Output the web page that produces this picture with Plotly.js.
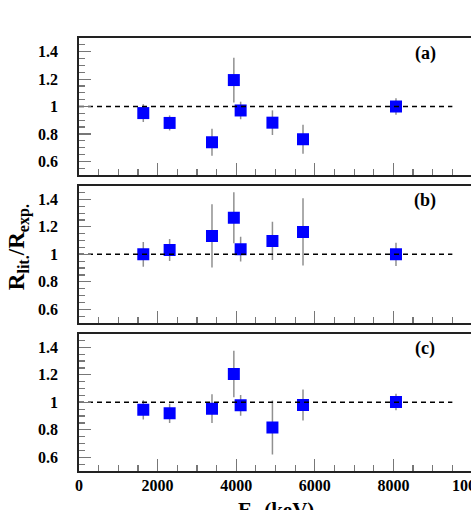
<!DOCTYPE html>
<html>
<head>
<meta charset="utf-8">
<script src="https://cdn.plot.ly/plotly-3.0.1.min.js"></script>
<style>
  html, body { margin: 0; padding: 0; overflow: hidden; background: #fff; }
  #graph { width: 500px; height: 510px; }
</style>
</head>
<body>
<div id="graph"></div>
<script>
// gamma energies (keV), same for all three panels
const energies = [1636, 2306, 3384, 3940, 4113, 4922, 5700, 8066];

// ratio R_lit / R_exp for each panel, with symmetric errors
const ratioA = [0.952, 0.880, 0.739, 1.193, 0.971, 0.882, 0.761, 1.000];
const errA   = [0.065, 0.055, 0.098, 0.163, 0.064, 0.090, 0.105, 0.060];

const ratioB = [1.000, 1.031, 1.134, 1.267, 1.038, 1.098, 1.163, 1.000];
const errB   = [0.090, 0.080, 0.230, 0.186, 0.090, 0.140, 0.245, 0.085];

const ratioC = [0.945, 0.920, 0.954, 1.206, 0.978, 0.817, 0.981, 1.003];
const errC   = [0.070, 0.070, 0.104, 0.170, 0.075, 0.197, 0.113, 0.060];

// reference line R = 1
const refX = [0, 9500];
const refY = [1, 1];

const panelLabels = ['(a)', '(b)', '(c)'];

const SERIF = 'Liberation Serif';

function points(y, err, n) {
    return {
        x: energies,
        y: y,
        xaxis: 'x' + n,
        yaxis: 'y' + n,
        mode: 'markers',
        type: 'scatter',
        marker: {symbol: 'square', size: 12, color: '#0000ff', line: {width: 0}},
        error_y: {type: 'data', array: err, visible: true, width: 0, thickness: 1.5, color: '#909090'},
        showlegend: false
    };
}

function refLine(n) {
    return {
        x: refX,
        y: refY,
        xaxis: 'x' + n,
        yaxis: 'y' + n,
        mode: 'lines',
        type: 'scatter',
        line: {color: '#000', width: 1.5, dash: '5px,4px'},
        showlegend: false
    };
}

const traces = [
    points(ratioA, errA, ''), points(ratioB, errB, '2'), points(ratioC, errC, '3'),
    refLine(''), refLine('2'), refLine('3')
];

function xAxis(anchor, labels) {
    return {
        anchor: anchor,
        range: [0, 10000],
        dtick: 2000,
        tickformat: 'd',
        ticks: 'inside',
        ticklen: 12,
        tickwidth: 1.2,
        tickcolor: '#777',
        minor: {ticks: 'inside', dtick: 500, ticklen: 6, tickwidth: 1.2, tickcolor: '#777'},
        showline: true,
        linecolor: '#222',
        linewidth: 1.8,
        mirror: true,
        showgrid: false,
        zeroline: false,
        showticklabels: labels,
        ticklabelstandoff: -1,
        tickfont: {family: SERIF, size: 16, weight: 'bold', color: '#000'}
    };
}

function yAxis(anchor, domain) {
    return {
        anchor: anchor,
        domain: domain,
        range: [0.5, 1.5],
        tickvals: [0.6, 0.8, 1, 1.2, 1.4],
        ticktext: ['0.6', '0.8', '1', '1.2', '1.4'],
        ticks: 'inside',
        ticklen: 12,
        tickwidth: 1.2,
        tickcolor: '#777',
        minor: {ticks: 'inside', dtick: 0.05, ticklen: 6, tickwidth: 1.2, tickcolor: '#777'},
        showline: true,
        linecolor: '#222',
        linewidth: 1.8,
        mirror: true,
        showgrid: false,
        zeroline: false,
        ticklabelstandoff: 16,
        tickfont: {family: SERIF, size: 16, weight: 'bold', color: '#000'}
    };
}

const annotations = panelLabels.map((t, i) => ({
    text: t,
    xref: 'x' + (i ? i + 1 : ''),
    yref: 'y' + (i ? i + 1 : ''),
    x: 8812,
    y: 1.39,
    showarrow: false,
    font: {family: SERIF, size: 18, weight: 'bold', color: '#000'}
}));
// axis titles
annotations.push({
    text: 'R<sub>lit.</sub>/R<sub>exp.</sub>',
    xref: 'paper',
    yref: 'paper',
    x: -0.197,
    y: 0.517,
    textangle: -90,
    showarrow: false,
    font: {family: SERIF, size: 23, weight: 'bold', color: '#000'}
});
annotations.push({
    text: 'E<sub>γ</sub> (keV)',
    xref: 'paper',
    yref: 'paper',
    x: 0.5,
    y: -0.058,
    yanchor: 'top',
    showarrow: false,
    font: {family: SERIF, size: 21, weight: 'bold', color: '#000'}
});

const layout = {
    width: 500,
    height: 510,
    margin: {l: 79, r: 28, t: 38, b: 39, pad: 0},
    paper_bgcolor: '#fff',
    plot_bgcolor: '#fff',
    xaxis: xAxis('y', false),
    xaxis2: Object.assign(xAxis('y2', false), {matches: 'x'}),
    xaxis3: Object.assign(xAxis('y3', true), {matches: 'x'}),
    yaxis: yAxis('x', [0.6836, 1]),
    yaxis2: yAxis('x2', [0.3418, 0.6589]),
    yaxis3: yAxis('x3', [0, 0.3173]),
    annotations: annotations
};

Plotly.newPlot('graph', traces, layout, {displayModeBar: false, staticPlot: true});
</script>
</body>
</html>
